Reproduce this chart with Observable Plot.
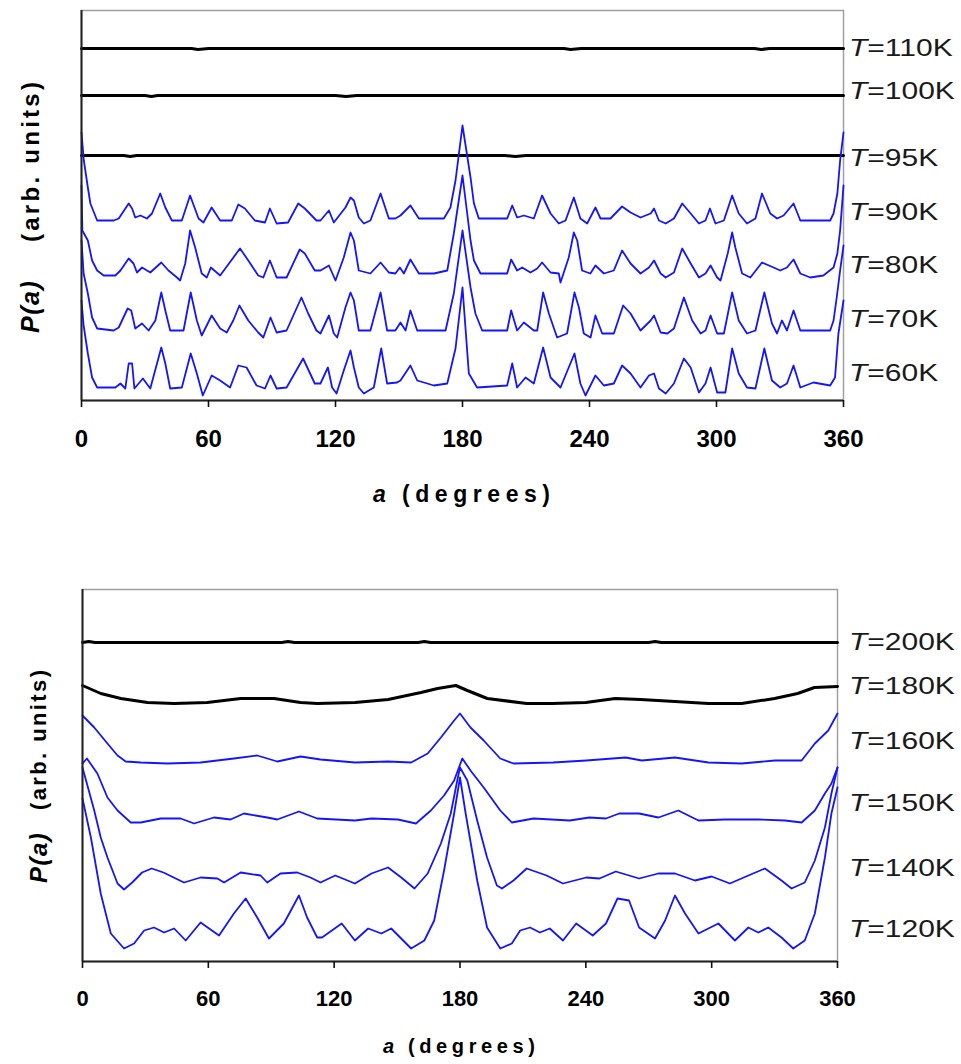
<!DOCTYPE html>
<html><head><meta charset="utf-8">
<script src="https://cdn.jsdelivr.net/npm/d3@7"></script>
<script src="https://cdn.jsdelivr.net/npm/@observablehq/plot@0.6"></script>
<style>
body{margin:0;background:#fff;}
#chart{position:relative;width:961px;height:1064px;background:#fff;}
#chart svg{display:block;}
</style></head><body><div id="chart"></div>
<script>
// ---------- data ----------
const xTicks = [0, 60, 120, 180, 240, 300, 360];

// top panel (angle a in degrees, P(a) in arb. units incl. vertical offset)
const topLabels = ["T=110K", "T=100K", "T=95K", "T=90K", "T=80K", "T=70K", "T=60K"];
const topLabelY = [353, 310, 243, 189, 136, 82, 28];
const t110 = [[0,352],[52,352],[55,351],[60,352],[228,352],[231,351],[236,352],[318,352],[321,351],[325,352],[360,352]];
const t100 = [[0,305],[30,305],[33,304],[36,305],[120,305],[125,304],[130,305],[360,305]];
const t95 = [[0,245],[20,245],[23,244],[26,245],[200,245],[205,244],[210,245],[360,245]];
const t90 = [[0,268],[1.1,240],[3,213],[4.2,197],[7.4,180],[15.2,180],[17.6,182],[22.3,197],[23.9,192],[25.4,183],[27.8,185],[30.9,182],[33.3,187],[37.2,207],[39.6,193],[42.7,180],[47.4,180],[51.3,205],[55.3,182],[57.6,178],[61.5,193],[65.5,180],[71,180],[74.1,196],[77.2,192],[81.9,180],[86.7,178],[89,192],[92.2,177],[97.6,178],[102.4,197],[105.5,192],[111,180],[112.9,180],[116.9,190],[119.2,178],[124.7,193],[127.1,203],[128.7,200],[131,183],[133.4,177],[136.5,180],[141.3,207],[145.2,182],[148.3,182],[150.7,185],[155.4,195],[159.4,182],[171.2,182],[174.3,193],[176.7,220],[180,275],[183.8,223],[185.4,197],[187.7,182],[201.1,182],[203.5,195],[205.8,183],[209,185],[213.7,182],[217.6,205],[221.6,187],[225.5,177],[228.7,180],[232.6,203],[235.7,182],[238.9,177],[242.8,193],[245.2,182],[249.9,182],[255.4,194],[259.4,188],[264.1,183],[268.9,187],[270.5,192],[272.8,180],[276,177],[279.9,182],[283.8,197],[287.8,187],[291.7,177],[294.8,180],[296.9,192],[299.5,177],[303.5,180],[307.4,205],[310.5,187],[314.4,177],[318.4,182],[321.5,207],[325.4,187],[328.6,182],[331.7,185],[336.4,197],[339.6,180],[353.7,180],[355.3,187],[357.1,207],[358.4,240],[360,268]];
const t80 = [[0,215],[0.4,170],[3,160],[5,140],[7.4,130],[10.5,125],[16,125],[18.4,130],[22.3,142],[24.6,137],[26.2,128],[28.6,133],[32.5,128],[37.7,138],[41.1,130],[45.1,123],[46.6,120],[49,137],[51.3,170],[53.7,153],[56.8,127],[59.2,123],[61.1,133],[65.5,125],[74.9,152],[78.8,140],[83.5,125],[85.9,123],[89,140],[92.2,123],[96.9,123],[103.1,151],[105.5,147],[110.2,130],[112.9,130],[116.9,135],[120,120],[123.9,143],[127.1,168],[128.7,160],[131,130],[136.5,127],[141.3,138],[145.2,128],[148.3,127],[150.4,133],[152.3,127],[155.4,141],[159.4,127],[166.5,127],[172.8,130],[175.9,167],[180,225],[183.8,160],[185.4,140],[188.5,127],[201.1,127],[203,141],[205.8,130],[208.2,133],[212.1,128],[215.3,132],[217.6,138],[221.6,128],[225.5,127],[226.3,118],[230.2,143],[232.6,168],[234.2,160],[236.5,130],[240.4,127],[242.8,135],[246.8,127],[251.5,130],[255.4,150],[259.4,137],[264.1,127],[268.1,133],[270.5,140],[273.6,127],[276,123],[279.9,128],[283.8,152],[287.8,137],[291.7,123],[294.8,127],[297.2,135],[300.3,123],[301.9,120],[305.3,147],[307.4,168],[308.9,153],[312.1,127],[316,123],[321.5,138],[327,133],[330.1,130],[333.3,133],[336.4,141],[339.6,127],[344.3,123],[350.5,125],[355.3,133],[357.1,147],[358.4,170],[360,215]];
const t70 = [[0,160],[1,127],[3,107],[5,83],[7.4,72],[15.2,70],[17.6,73],[21.8,92],[23.5,90],[25.4,72],[28.6,77],[31.7,70],[34.9,80],[37.7,108],[39.6,90],[41.9,70],[48.2,70],[51.6,108],[54.5,80],[56.8,65],[61.5,85],[65.5,72],[68.6,68],[71.7,80],[74.6,95],[78.8,80],[83.5,68],[85.9,63],[89.3,83],[92.2,68],[96.9,70],[103.9,103],[107.1,87],[111,70],[112.9,67],[116.9,85],[119.2,67],[120.8,63],[124.7,93],[127.1,108],[128.7,100],[131,70],[136.5,70],[141.3,108],[144.4,70],[148.3,70],[150.7,78],[153.1,70],[155.4,90],[158.6,70],[172,70],[175.9,107],[180,170],[183.8,113],[186.1,87],[189.3,70],[201.1,70],[203,90],[205.8,70],[209,78],[213.7,70],[215.3,70],[218.1,108],[220.8,87],[224.7,63],[229.4,67],[232.9,108],[235,93],[237.3,67],[240.5,63],[242.8,85],[246,67],[251.5,67],[255.9,95],[259.4,87],[264.1,70],[268.9,80],[270.5,85],[273.6,68],[276.8,67],[279.9,72],[284.6,103],[288.5,80],[292.5,67],[294.8,70],[297.2,85],[300.3,67],[303.5,67],[307.4,108],[310.5,80],[314.4,67],[318.4,70],[322.6,108],[326.2,77],[328.6,67],[330.9,80],[333.3,70],[336.4,90],[339.6,70],[353.7,70],[355.3,80],[356.8,103],[358.4,130],[360,155]];
const t60 = [[0,100],[1,75],[3,47],[5,23],[7.4,13],[16,13],[18.4,17],[20.7,12],[22.3,37],[23.9,37],[25,12],[29,22],[32.5,12],[37.7,53],[39.6,37],[41.9,12],[47.4,13],[51.6,47],[54.5,27],[57.3,5],[61.5,25],[65.5,20],[70.2,13],[74.1,35],[78,33],[82.7,15],[86.7,12],[89.3,25],[92.2,12],[96.9,13],[104.7,42],[110.2,17],[112.9,17],[116.4,33],[118.4,13],[120.5,7],[123.9,30],[127.1,50],[128.7,33],[131,13],[133.4,7],[138.1,13],[141.6,52],[144.4,17],[149.1,18],[150.7,20],[155.4,35],[158.6,20],[166.5,15],[172.8,17],[176.7,52],[180,113],[183,27],[186.9,13],[201.1,15],[203.5,37],[205.8,13],[209.8,23],[213.7,17],[218.1,53],[221.6,23],[226.3,13],[232.9,47],[235.7,17],[238.1,5],[242.8,25],[246.8,15],[251.5,17],[255.4,35],[259.4,27],[264.1,13],[268.1,25],[270.5,27],[272.8,12],[276,7],[279.9,17],[284.6,42],[287.8,33],[291.7,8],[294.8,17],[297.2,33],[300.3,8],[304.2,8],[307.4,52],[310.5,27],[314.4,13],[318.4,12],[322.6,52],[326.2,20],[330.1,13],[333.3,17],[336.4,35],[339.6,13],[345.8,18],[353.7,15],[356,23],[357.6,67],[360,100]];

// bottom panel
const botLabels = ["T=200K", "T=180K", "T=160K", "T=150K", "T=140K", "T=120K"];
const botLabelY = [320, 276, 221, 159, 94, 33];
const t200 = [[0,319],[3,320],[6,319],[95,319],[98,320],[101,319],[160,319],[163,320],[166,319],[270,319],[273,320],[276,319],[360,319]];
const t180 = [[0,276],[8.7,268],[18.3,263],[31,259],[43.7,258],[59.5,259],[75.4,263],[91.3,263],[104,259],[111.9,258],[130,259],[145.7,262],[161.4,269],[169.3,273],[178,276],[183.5,271],[193,263],[211.8,258],[224,258],[240,259],[254,263],[266,262],[282.5,260],[298.4,258],[314.3,258],[330,263],[341,268],[349,274],[360,275]];
const t160 = [[0,246],[5.6,234],[11.9,218],[16.7,206],[20.6,200],[27.8,199],[40.5,198],[56.3,199],[72.2,203],[83.3,206],[92.9,200],[104,205],[113.5,202],[129.9,199],[145.7,200],[156.7,199],[164.6,208],[170.9,224],[177.2,241],[180,248],[185,234],[191.3,221],[199.2,203],[205.5,198],[224.4,199],[240.2,201],[259,204],[266.7,201],[282.5,204],[298.4,199],[314.3,198],[330.2,201],[342.9,201],[349.2,218],[355.6,231],[360,248]];
const t150 = [[0,198],[2.1,203],[7.1,188],[11.9,164],[16.7,151],[23,139],[27.8,139],[37.3,143],[46.8,143],[53.2,138],[62.7,144],[70.6,142],[77,148],[88.1,144],[92.9,142],[103.2,150],[111.9,143],[129.9,141],[137.8,143],[150.4,142],[159,138],[166.1,151],[172.4,166],[177.2,181],[181.1,203],[185,191],[191.3,174],[199.2,151],[204.7,139],[215,143],[232.3,141],[241.7,144],[249.6,143],[255.9,148],[265.4,148],[274.6,144],[284.1,151],[293.7,141],[306.3,142],[322.2,142],[335,141],[342.9,139],[349.2,151],[354,168],[357.1,178],[360,194]];
const t140 = [[0,194],[5.6,151],[8.7,124],[11.9,104],[16.7,78],[19.8,72],[23.7,79],[28.4,89],[33,93],[38.6,89],[48.4,79],[56.3,84],[64.3,83],[67.5,79],[75.4,89],[84.9,86],[88.1,79],[94.4,88],[102.4,89],[108.7,84],[113.5,79],[120.5,86],[129.9,78],[137.8,88],[145.7,94],[152,84],[158.3,73],[164.6,88],[170.9,118],[175.6,148],[178.7,181],[180,194],[183.5,181],[188.2,141],[192.9,104],[197.6,76],[200,73],[205.5,81],[211.8,93],[221.3,86],[229.1,78],[240.2,84],[246.5,83],[254.3,90],[265.4,83],[274.6,88],[282.5,88],[292,81],[300,85],[308.7,78],[317.5,86],[325.4,93],[333.3,81],[338.1,73],[344.4,79],[349.2,101],[354,134],[357.1,168],[360,194]];
const t120 = [[0,163],[4,124],[8.7,68],[13.5,28],[19.8,13],[24.6,18],[29.4,31],[34.1,34],[38.9,29],[43.7,33],[49.2,21],[56.3,39],[65.1,26],[72.2,48],[77.8,63],[83.3,44],[88.9,23],[96,38],[103.2,66],[107.1,44],[111.9,24],[114.2,24],[123.6,38],[129.9,21],[136.2,33],[142.5,28],[147.2,33],[156.7,13],[163,21],[167.7,41],[172.4,91],[177.2,148],[180,184],[182.7,148],[188.2,81],[192.9,34],[199.2,13],[204.7,18],[208.7,31],[213.4,34],[218.1,29],[222.8,33],[229.1,21],[235.4,38],[243.3,26],[249.6,38],[255.1,63],[260.6,61],[265.4,34],[273,23],[277.8,41],[282.5,66],[287.3,48],[293.7,28],[303.2,38],[311.1,21],[317.5,34],[322.2,29],[327,34],[333.3,24],[338.9,13],[344.4,21],[349.2,48],[354,104],[357.1,148],[360,174]];

// ---------- build ----------
const F = "'Liberation Sans', Arial, Helvetica, sans-serif";
const BLUE = "#1414ff";
function rows(series) {
  const out = [];
  for (const [name, pts] of series) for (const [a, p] of pts) out.push({name, a, p});
  return out;
}
const topBlack = rows([["110", t110], ["100", t100], ["95", t95]]);
const topBlue = rows([["90", t90], ["80", t80], ["70", t70], ["60", t60]]);
const botBlack = rows([["200", t200], ["180", t180]]);
const botBlue = rows([["160", t160], ["150", t150], ["140", t140], ["120", t120]]);

function panel({width, height, mt, mb, ml, mr, ymax, black, blue, tickFont}) {
  return Plot.plot({
    width, height, marginTop: mt, marginBottom: mb, marginLeft: ml, marginRight: mr,
    style: {fontFamily: F, background: "white", overflow: "visible"},
    x: {domain: [0, 360], label: null},
    y: {domain: [0, ymax], axis: null},
    marks: [
      Plot.frame({stroke: "#a0a0a0", strokeWidth: 1.5}),
      Plot.line(black, {x: "a", y: "p", z: "name", stroke: "#000", strokeWidth: 3}),
      Plot.line(blue, {x: "a", y: "p", z: "name", stroke: BLUE, strokeWidth: 1.8, strokeLinejoin: "round"}),
      Plot.ruleY([0], {stroke: "#222", strokeWidth: 2}),
      Plot.ruleX([0], {stroke: "#222", strokeWidth: 2}),
      Plot.axisX(xTicks, {tickSize: 7, tickPadding: 22, stroke: "#111", strokeWidth: 1.6,
        fill: "#000", fontSize: tickFont, fontWeight: "bold", fontFamily: F, label: null})
    ]
  });
}
function sc(plot, k) {
  const s = plot.scale(k);
  return s.apply ? (v) => s.apply(v) : d3.scaleLinear(s.domain, s.range);
}
function addLabels(plot, labels, ys, dx) {
  const x = sc(plot, "x"), y = sc(plot, "y");
  const g = d3.select(plot).append("g").attr("font-family", F).attr("font-size", 24)
    .attr("fill", "#1a1a1a").attr("text-anchor", "start");
  labels.forEach((lab, i) => {
    const t = g.append("text")
      .attr("transform", `translate(${x(360) + dx},${y(ys[i])}) scale(1.25,1)`)
      .attr("dy", "0.36em");
    t.append("tspan").attr("font-style", "italic").text(lab[0]);
    t.append("tspan").text(lab.slice(1));
  });
}
function addText(plot, {txt, x, y, len, size, italic, rotate, spacing}) {
  const t = d3.select(plot).append("text")
    .attr("font-family", F).attr("font-weight", "bold").attr("font-size", size)
    .attr("fill", "#000").attr("text-anchor", "start")
    .attr("transform", rotate ? `translate(${x},${y}) rotate(-90)` : `translate(${x},${y})`)
    .attr("dominant-baseline", rotate ? "central" : "auto")
    .text(txt);
  if (italic) t.attr("font-style", "italic");
  if (spacing) t.attr("letter-spacing", spacing);
  if (len) t.attr("textLength", len).attr("lengthAdjust", "spacing");
}

const chart = document.getElementById("chart");

const topPanel = panel({width: 961, height: 520, mt: 10, mb: 120, ml: 81, mr: 118, ymax: 390,
  black: topBlack, blue: topBlue, tickFont: 24});
addLabels(topPanel, topLabels, topLabelY, 6);
addText(topPanel, {txt: "P(a)", x: 30, y: 333, size: 25, italic: true, rotate: true, spacing: 1.5});
addText(topPanel, {txt: "(arb. units)", x: 30, y: 242, len: 160, size: 24, rotate: true});
addText(topPanel, {txt: "a", x: 373, y: 502, size: 23, italic: true});
addText(topPanel, {txt: "(degrees)", x: 402, y: 502, len: 148, size: 23});
chart.appendChild(topPanel);

const botPanel = panel({width: 961, height: 544, mt: 69, mb: 103, ml: 82, mr: 124, ymax: 372,
  black: botBlack, blue: botBlue, tickFont: 22});
addLabels(botPanel, botLabels, botLabelY, 12);
addText(botPanel, {txt: "P(a)", x: 38, y: 363, size: 24, italic: true, rotate: true, spacing: 1.5});
addText(botPanel, {txt: "(arb. units)", x: 38, y: 290, len: 140, size: 22, rotate: true});
addText(botPanel, {txt: "a", x: 383, y: 533, size: 20, italic: true});
addText(botPanel, {txt: "(degrees)", x: 408, y: 533, len: 127, size: 20});
chart.appendChild(botPanel);
</script></body></html>
